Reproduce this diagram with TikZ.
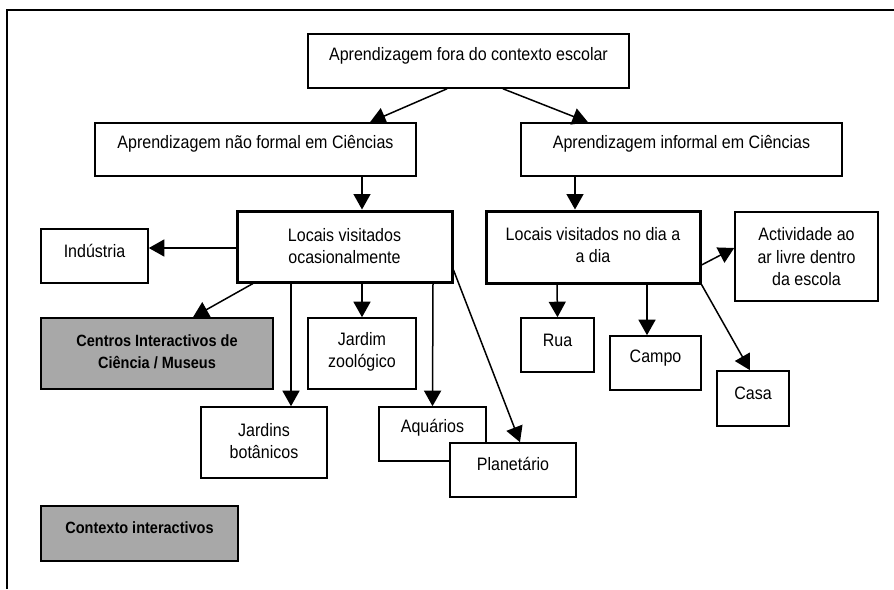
\documentclass[tikz,border=0pt]{standalone}
\usepackage{fontspec}
\setmainfont{Liberation Sans}[FakeStretch=0.89]
\usetikzlibrary{arrows.meta}
\definecolor{boxgray}{RGB}{168,168,168}
\tikzset{
  box/.style={draw=black, line width=1.6pt, fill=white, inner sep=0pt, rectangle},
  thickbox/.style={box, line width=3pt},
  graybox/.style={box, fill=boxgray},
  txt/.style={align=center, inner sep=0pt, font=\fontsize{18}{22.5}\selectfont},
  btxt/.style={txt, font=\fontsize{16.3}{22.5}\selectfont\bfseries},
  arr/.style={line width=1.5pt, -{Triangle[length=15.5pt,width=17pt]}},
}
\begin{document}
\begin{tikzpicture}[x=1pt,y=-1pt]
\useasboundingbox (0,0) rectangle (894,589);
% frame
\draw[line width=1.5pt] (7,589) -- (7,10) -- (894,10);
% boxes
\node[box, minimum width=321pt, minimum height=54pt] (top) at (468.5,61) {};
\node[box, minimum width=321pt, minimum height=53pt] (nf) at (255.5,149.5) {};
\node[box, minimum width=321pt, minimum height=53pt] (inf) at (681.5,149.5) {};
\node[thickbox, minimum width=215pt, minimum height=71pt] (loc1) at (344.5,246.5) {};
\node[box, minimum width=107pt, minimum height=54pt] (ind) at (94.5,256) {};
\node[thickbox, minimum width=214pt, minimum height=72pt] (loc2) at (593,247) {};
\node[box, minimum width=143pt, minimum height=89pt] (act) at (806.5,256.5) {};
\node[graybox, minimum width=232pt, minimum height=71pt] (cen) at (157,353.5) {};
\node[box, minimum width=108pt, minimum height=71pt] (zoo) at (362,353.5) {};
\node[box, minimum width=126pt, minimum height=71pt] (bot) at (264,442.5) {};
\node[box, minimum width=107pt, minimum height=54pt] (aq) at (432.5,434) {};
\node[box, minimum width=73pt, minimum height=54pt] (rua) at (557.5,345) {};
\node[box, minimum width=91pt, minimum height=54pt] (cam) at (655.5,363) {};
\node[box, minimum width=72pt, minimum height=55pt] (cas) at (753,398.5) {};
\node[graybox, minimum width=197pt, minimum height=55pt] (ctx) at (139.5,533.5) {};
% texts
\node[txt] (top-t) at (468.5,56) {Aprendizagem fora do contexto escolar};
\node[txt] (nf-t) at (255.5,144) {Aprendizagem não formal em Ciências};
\node[txt] (inf-t) at (681.5,144) {Aprendizagem informal em Ciências};
\node[txt] (loc1-t) at (344.5,246) {Locais visitados\\ocasionalmente};
\node[txt] (ind-t) at (94.5,251) {Indústria};
\node[txt] (loc2-t) at (593,245) {Locais visitados no dia a\\a dia};
\node[txt] (act-t) at (806.5,257) {Actividade ao\\ar livre dentro\\da escola};
\node[btxt] (cen-t) at (157,352) {Centros Interactivos de\\Ciência / Museus};
\node[txt] (zoo-t) at (362,352) {Jardim\\zoológico};
\node[txt] (bot-t) at (264,441) {Jardins\\botânicos};
\node[txt] (aq-t) at (432.5,428) {Aquários};
\node[txt] (rua-t) at (557.5,340) {Rua};
\node[txt] (cam-t) at (655.5,358) {Campo};
\node[txt] (cas-t) at (753,393) {Casa};
\node[btxt] (ctx-t) at (139.5,528) {Contexto interactivos};
% Planetário overlaps Aquários, drawn on top
\node[box, minimum width=126pt, minimum height=54pt] (pla) at (513,470) {};
\node[txt] (pla-t) at (513,464) {Planetário};
% arrows
\draw[arr] ([xshift=-21.5pt]top.south) -- ([xshift=114.5pt]nf.north);
\draw[arr] ([xshift=34.5pt]top.south) -- ([xshift=-93.5pt]inf.north);
\draw[arr] ([xshift=106.5pt]nf.south) -- ([xshift=17.5pt]loc1.north);
\draw[arr] ([xshift=-106.5pt]inf.south) -- ([xshift=-18pt]loc2.north);
\draw[arr] ([yshift=-1.5pt]loc1.west) -- ([yshift=-1.5pt]loc1.west -| ind.east);
\draw[arr] ([xshift=-91.5pt]loc1.south) -- ([xshift=36pt]cen.north);
\draw[arr] ([xshift=-53.5pt]loc1.south) -- ([xshift=27pt]bot.north);
\draw[arr] ([xshift=17.5pt]loc1.south) -- (zoo.north);
\draw[arr] ([xshift=88.5pt]loc1.south) -- (aq.north);
\draw[arr] ([yshift=-23.5pt]loc1.east) -- ([xshift=7pt]pla.north);
\draw[arr] ([yshift=-18pt]loc2.east) -- ([yshift=8.5pt]act.west);
\draw[arr] ([xshift=-36pt]loc2.south) -- (rua.north);
\draw[arr] ([xshift=54pt]loc2.south) -- ([xshift=-8.5pt]cam.north);
\draw[arr] (loc2.south east) -- ([xshift=-3pt]cas.north);
\end{tikzpicture}
\end{document}
